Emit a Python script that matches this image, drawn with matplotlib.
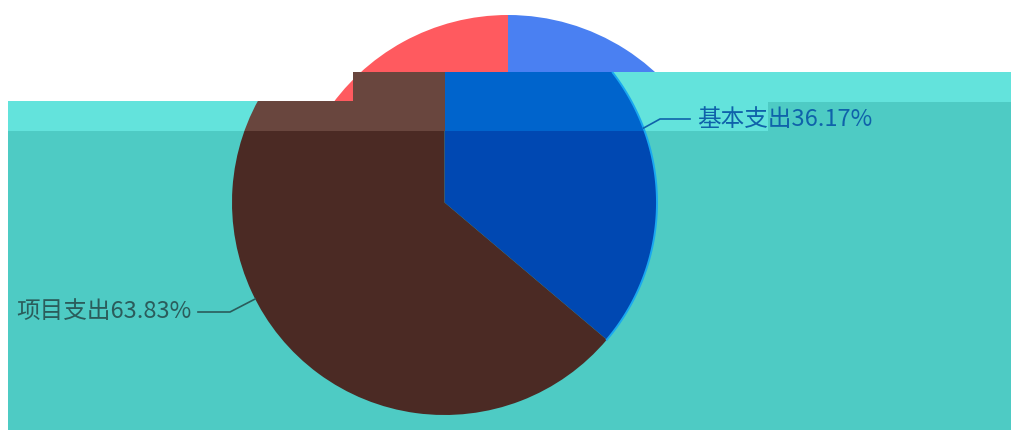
import numpy as np
import matplotlib.pyplot as plt
from matplotlib.patches import Rectangle

plt.rcParams['font.family'] = ['Noto Sans CJK SC', 'DejaVu Sans']

# data
categories = ['基本支出', '项目支出']
shares = [36.17, 63.83]
back_shares = [36.17, 63.83]

# colours
back_colors = ['#4a80f2', '#ff5a5f']
front_dark = ['#0048b2', '#4b2a24']
front_light = ['#0064cc', '#69463e']
teal_dark = '#4ecbc4'
teal_light = '#63e3dc'
rim_color = '#1aa8f0'
label_colors = ['#0f62aa', '#2b5c5b']

W, H = 1012, 430
fig = plt.figure(figsize=(W / 100, H / 100), dpi=100, facecolor='white')
ax = fig.add_axes([0, 0, 1, 1])

# pixel layout (y grows downward)
back_center, back_r = (508, 233), 218
front_center, front_r = (444.5, 202.5), 212.5

# panel pieces: lighter top band and darker body (stepped edges)
light_boxes = [(8, 101, 353, 131), (353, 72, 768, 131), (768, 72, W, 102)]
dark_boxes = [(8, 131, 768, H), (768, 102, W, H)]


def clip_rect(poly, x0, y0, x1, y1):
    # Sutherland-Hodgman against an axis aligned box
    def cut(pts, inside, cross):
        out = []
        for k in range(len(pts)):
            cur, prev = pts[k], pts[k - 1]
            if inside(cur):
                if not inside(prev):
                    out.append(cross(prev, cur))
                out.append(cur)
            elif inside(prev):
                out.append(cross(prev, cur))
        return out

    def at_x(p, q, x):
        t = (x - p[0]) / (q[0] - p[0])
        return (x, p[1] + t * (q[1] - p[1]))

    def at_y(p, q, y):
        t = (y - p[1]) / (q[1] - p[1])
        return (p[0] + t * (q[0] - p[0]), y)

    pts = [tuple(p) for p in poly]
    edges = [(lambda p: p[0] >= x0, lambda p, q: at_x(p, q, x0)),
             (lambda p: p[0] <= x1, lambda p, q: at_x(p, q, x1)),
             (lambda p: p[1] >= y0, lambda p, q: at_y(p, q, y0)),
             (lambda p: p[1] <= y1, lambda p, q: at_y(p, q, y1))]
    for inside, cross in edges:
        if not pts:
            break
        pts = cut(pts, inside, cross)
    return pts


# back pie, only its top shows above the panel
ax.pie(back_shares, colors=back_colors, center=back_center, radius=back_r,
       startangle=-90, counterclock=True, frame=True,
       wedgeprops=dict(linewidth=0))

# front pie geometry from matplotlib, then cut into the panel pieces
wedges, _ = ax.pie(shares, center=front_center, radius=front_r,
                   startangle=-90, counterclock=True, frame=True)
slice_polys = [w.get_path().to_polygons()[0] for w in wedges]
for w in wedges:
    w.remove()

for boxes, face, cols in [(light_boxes, teal_light, front_light),
                          (dark_boxes, teal_dark, front_dark)]:
    for (x0, y0, x1, y1) in boxes:
        ax.add_patch(Rectangle((x0, y0), x1 - x0, y1 - y0, facecolor=face,
                               edgecolor='none', zorder=2))
        for poly, c in zip(slice_polys, cols):
            piece = clip_rect(poly, x0, y0, x1, y1)
            if len(piece) > 2:
                xs, ys = zip(*piece)
                ax.fill(xs, ys, color=c, linewidth=0, zorder=3)

# thin bright rim along the blue slice's arc
t0 = np.deg2rad(-90)
t1 = t0 + np.deg2rad(360 * shares[0] / sum(shares))
tt = np.linspace(t0, t1, 200)
rx = front_center[0] + front_r * np.cos(tt)
ry = front_center[1] + front_r * np.sin(tt)
keep = ry >= 72
ax.plot(rx[keep], ry[keep], color=rim_color, linewidth=1.4, zorder=4)

# labels with leader lines
edge_angles = [69.5, 243]          # clockwise from top, where line meets the pie
elbows = [(660, 119), (230, 312)]
ends = [(690, 119), (198, 312)]
for i, name in enumerate(categories):
    t = np.deg2rad(edge_angles[i])
    sx = front_center[0] + front_r * np.sin(t)
    sy = front_center[1] - front_r * np.cos(t)
    ax.plot([sx, elbows[i][0], ends[i][0]], [sy, elbows[i][1], ends[i][1]],
            color=label_colors[i], linewidth=1.2, zorder=5)
    right = ends[i][0] > front_center[0]
    ax.text(ends[i][0] + (7 if right else -6), ends[i][1],
            f'{name}{shares[i]:.2f}%', color=label_colors[i], fontsize=17,
            ha='left' if right else 'right', va='center', zorder=6)

ax.set_xlim(0, W)
ax.set_ylim(H, 0)
ax.set_aspect('auto')
ax.axis('off')

fig.savefig('out.png', dpi=100, facecolor='white')
